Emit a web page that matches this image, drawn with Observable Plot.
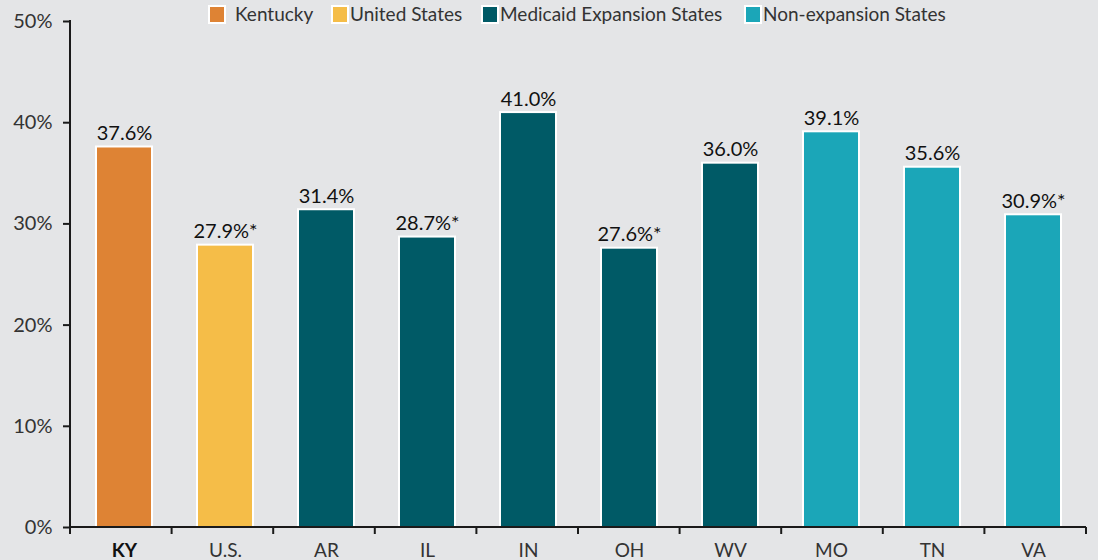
<!DOCTYPE html>
<html>
<head>
<meta charset="utf-8">
<script src="https://cdn.jsdelivr.net/npm/d3@7"></script>
<script src="https://cdn.jsdelivr.net/npm/@observablehq/plot@0.6"></script>
<style>
  html, body { margin: 0; padding: 0; background: #e4e5e7; }
  #wrap { position: relative; width: 1098px; height: 560px; overflow: hidden; font-family: Lato, "Noto Sans", sans-serif; }
  .sw { position: absolute; top: 5px; width: 14px; height: 15px; border: 2px solid #fff; }
  .lt { position: absolute; top: 2px; font-size: 19px; line-height: 24px; color: #333; white-space: nowrap; }
</style>
</head>
<body>
<div id="wrap"></div>
<script>
const categories = ["KY", "U.S.", "AR", "IL", "IN", "OH", "WV", "MO", "TN", "VA"];
const values = [37.6, 27.9, 31.4, 28.7, 41.0, 27.6, 36.0, 39.1, 35.6, 30.9];
const groups = ["Kentucky", "United States", "Medicaid Expansion States", "Medicaid Expansion States",
  "Medicaid Expansion States", "Medicaid Expansion States", "Medicaid Expansion States",
  "Non-expansion States", "Non-expansion States", "Non-expansion States"];
const marks = ["", "*", "", "*", "", "*", "", "", "", "*"];
const legendGroups = ["Kentucky", "United States", "Medicaid Expansion States", "Non-expansion States"];
const legendColors = ["#de8334", "#f5bd48", "#005a66", "#1ba6b8"];
const legendSwatchLeft = [208, 331, 481, 744];
const legendTextLeft = [235, 350, 500, 763];
const yTicks = [0, 10, 20, 30, 40, 50];

const data = categories.map((c, i) => ({cat: c, value: values[i], group: groups[i], label: values[i].toFixed(1) + "%" + marks[i]}));

const axisLines = (index, scales, vals, dims) => {
  const g = d3.create("svg:g").attr("stroke", "#1a1a1a").attr("stroke-width", 2).attr("fill", "none");
  const left = dims.marginLeft, right = dims.width - dims.marginRight;
  const y0 = scales.y(0), yTop = scales.y(50);
  g.append("line").attr("x1", left).attr("x2", left).attr("y1", yTop - 1).attr("y2", y0 + 7);
  g.append("line").attr("x1", left).attr("x2", right).attr("y1", y0).attr("y2", y0);
  const n = categories.length;
  for (let i = 1; i <= n; i++) {
    const x = left + i * (right - left) / n;
    g.append("line").attr("x1", x).attr("x2", x).attr("y1", y0).attr("y2", y0 + 7);
  }
  return g.node();
};

const chart = Plot.plot({
  width: 1098,
  height: 560,
  marginLeft: 70,
  marginRight: 12,
  marginTop: 21,
  marginBottom: 33,
  style: {background: "#e4e5e7", fontFamily: "Lato, 'Noto Sans', sans-serif", overflow: "visible"},
  x: {domain: categories, paddingInner: 0.45, paddingOuter: 0.225, axis: null},
  y: {domain: [0, 50], axis: null},
  color: {domain: legendGroups, range: legendColors},
  marks: [
    Plot.barY(data, {x: "cat", y: "value", fill: "group", stroke: "#fff", strokeWidth: 2}),
    Plot.text(data, {x: "cat", y: "value", text: "label", lineAnchor: "bottom", dy: -7, fontSize: 20, fill: "#111"}),
    Plot.axisY({ticks: yTicks, tickSize: 7, tickPadding: 11, tickFormat: d => d + "%", fontSize: 20, label: null, strokeWidth: 2, stroke: "#1a1a1a", fill: "#333"}),
    axisLines,
    Plot.text(data.filter(d => d.cat === "KY"), {x: "cat", y: 0, text: "cat", lineAnchor: "top", dy: 16, fontSize: 19, fontWeight: "bold", fill: "#111"}),
    Plot.text(data.filter(d => d.cat !== "KY"), {x: "cat", y: 0, text: "cat", lineAnchor: "top", dy: 16, fontSize: 19, fill: "#333"})
  ]
});

const wrap = document.getElementById("wrap");
wrap.appendChild(chart);
legendGroups.forEach((g, i) => {
  const sw = document.createElement("div");
  sw.className = "sw";
  sw.style.left = legendSwatchLeft[i] + "px";
  sw.style.background = legendColors[i];
  const t = document.createElement("div");
  t.className = "lt";
  t.style.left = legendTextLeft[i] + "px";
  t.textContent = g;
  wrap.appendChild(sw);
  wrap.appendChild(t);
});
</script>
</body>
</html>
